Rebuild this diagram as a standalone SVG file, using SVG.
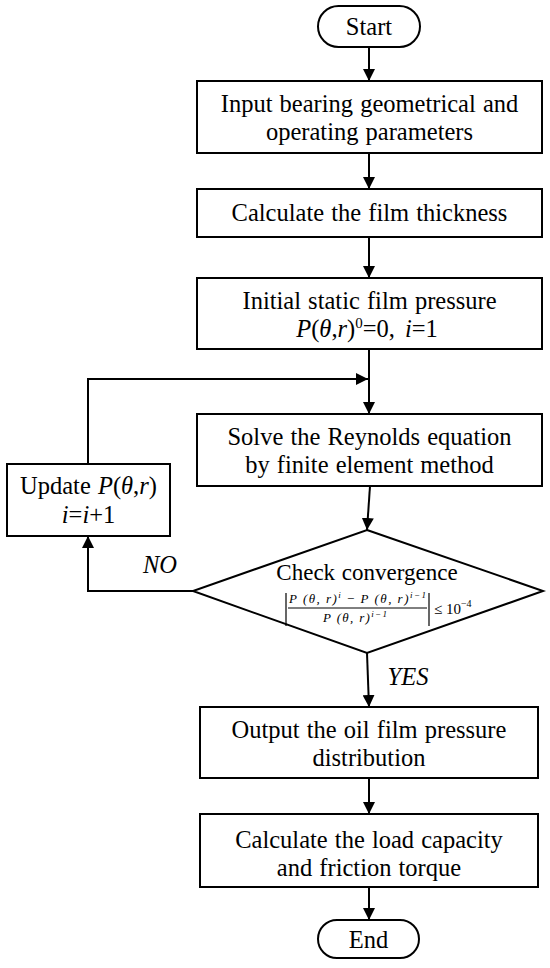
<svg xmlns="http://www.w3.org/2000/svg" width="550" height="968" viewBox="0 0 550 968">
<defs>
<style>
.shape{fill:#fff;stroke:#000;stroke-width:2}
.t{font-family:"Liberation Serif","Times New Roman",serif;font-size:24.5px;word-spacing:1px;fill:#000;text-anchor:middle}
.it{font-style:italic}
.f{font-family:"Liberation Serif","Times New Roman",serif;font-size:13px;fill:#000;font-style:italic}
.ln{fill:none;stroke:#000;stroke-width:2}
</style>
<marker id="ah" markerUnits="userSpaceOnUse" markerWidth="12" markerHeight="12" viewBox="0 0 12 12" refX="12" refY="6" orient="auto">
<path d="M0,0 L12,6 L0,12 Z" fill="#000"/>
</marker>
</defs>
<rect width="550" height="968" fill="#fff"/>

<g id="connectors">
<line class="ln" x1="369" y1="47" x2="369" y2="81" marker-end="url(#ah)"/>
<line class="ln" x1="369" y1="153" x2="369" y2="189" marker-end="url(#ah)"/>
<line class="ln" x1="369" y1="237" x2="369" y2="278" marker-end="url(#ah)"/>
<line class="ln" x1="369" y1="349" x2="369" y2="414" marker-end="url(#ah)"/>
<polyline class="ln" points="88,464 88,379 368,379" marker-end="url(#ah)"/>
<line class="ln" x1="370" y1="486" x2="367" y2="530" marker-end="url(#ah)"/>
<polyline class="ln" points="193,591 88,591 88,536" marker-end="url(#ah)"/>
<line class="ln" x1="367" y1="653" x2="369" y2="707" marker-end="url(#ah)"/>
<line class="ln" x1="369" y1="778" x2="369" y2="814" marker-end="url(#ah)"/>
<line class="ln" x1="369" y1="887" x2="369" y2="920" marker-end="url(#ah)"/>
<text class="t it" x="160" y="573">NO</text>
<text class="t it" x="408" y="685">YES</text>
</g>

<g id="start">
<rect class="shape" x="318" y="6" width="102" height="41" rx="20.5"/>
<text class="t" x="369" y="35">Start</text>
</g>

<g id="input">
<rect class="shape" x="197" y="81" width="345" height="72"/>
<text class="t" x="369.5" y="112">Input bearing geometrical and</text>
<text class="t" x="369.5" y="140">operating parameters</text>
</g>

<g id="thickness">
<rect class="shape" x="197" y="189" width="345" height="48"/>
<text class="t" x="369.5" y="221">Calculate the film thickness</text>
</g>

<g id="initial">
<rect class="shape" x="197" y="278" width="345" height="71"/>
<text class="t" x="369.5" y="309">Initial static film pressure</text>
<text class="t" x="367" y="337"><tspan class="it">P</tspan>(<tspan class="it">θ</tspan>,<tspan class="it">r</tspan>)<tspan font-size="15" dy="-9">0</tspan><tspan dy="9">=0,</tspan><tspan class="it" dx="10">i</tspan>=1</text>
</g>

<g id="solve">
<rect class="shape" x="197" y="414" width="345" height="72"/>
<text class="t" x="369.5" y="445">Solve the Reynolds equation</text>
<text class="t" x="369.5" y="473">by finite element method</text>
</g>

<g id="update">
<rect class="shape" x="7" y="464" width="163" height="72"/>
<text class="t" x="88.5" y="494">Update <tspan class="it">P</tspan>(<tspan class="it">θ</tspan>,<tspan class="it">r</tspan>)</text>
<text class="t" x="88.5" y="523"><tspan class="it">i</tspan>=<tspan class="it">i</tspan>+1</text>
</g>

<g id="check">
<polygon class="shape" points="367,530 543,591 367,653 193,591"/>
<text class="t" x="367" y="580" style="font-size:23px">Check convergence</text>
<line x1="286" y1="593" x2="286" y2="626" stroke="#000" stroke-width="1.2"/>
<line x1="429" y1="593" x2="429" y2="626" stroke="#000" stroke-width="1.2"/>
<line x1="288" y1="608" x2="427" y2="608" stroke="#000" stroke-width="1"/>
<text class="f" x="289" y="603" textLength="137" lengthAdjust="spacing">P (θ, r)<tspan font-size="9" dy="-5">i</tspan><tspan dy="5" font-style="normal"> − </tspan>P (θ, r)<tspan font-size="9" dy="-5">i−1</tspan></text>
<text class="f" x="323" y="622" textLength="64" lengthAdjust="spacing">P (θ, r)<tspan font-size="9" dy="-5">i−1</tspan></text>
<text x="434" y="614" font-family="Liberation Serif, serif" font-size="15" fill="#000">≤ 10<tspan font-size="10" dy="-7">−4</tspan></text>
</g>

<g id="output">
<rect class="shape" x="200" y="707" width="338" height="71"/>
<text class="t" x="369" y="738">Output the oil film pressure</text>
<text class="t" x="369" y="766">distribution</text>
</g>

<g id="load">
<rect class="shape" x="200" y="814" width="338" height="73"/>
<text class="t" x="369" y="848">Calculate the load capacity</text>
<text class="t" x="369" y="876">and friction torque</text>
</g>

<g id="end">
<rect class="shape" x="318" y="920" width="101" height="38" rx="19"/>
<text class="t" x="368.5" y="948">End</text>
</g>
</svg>
